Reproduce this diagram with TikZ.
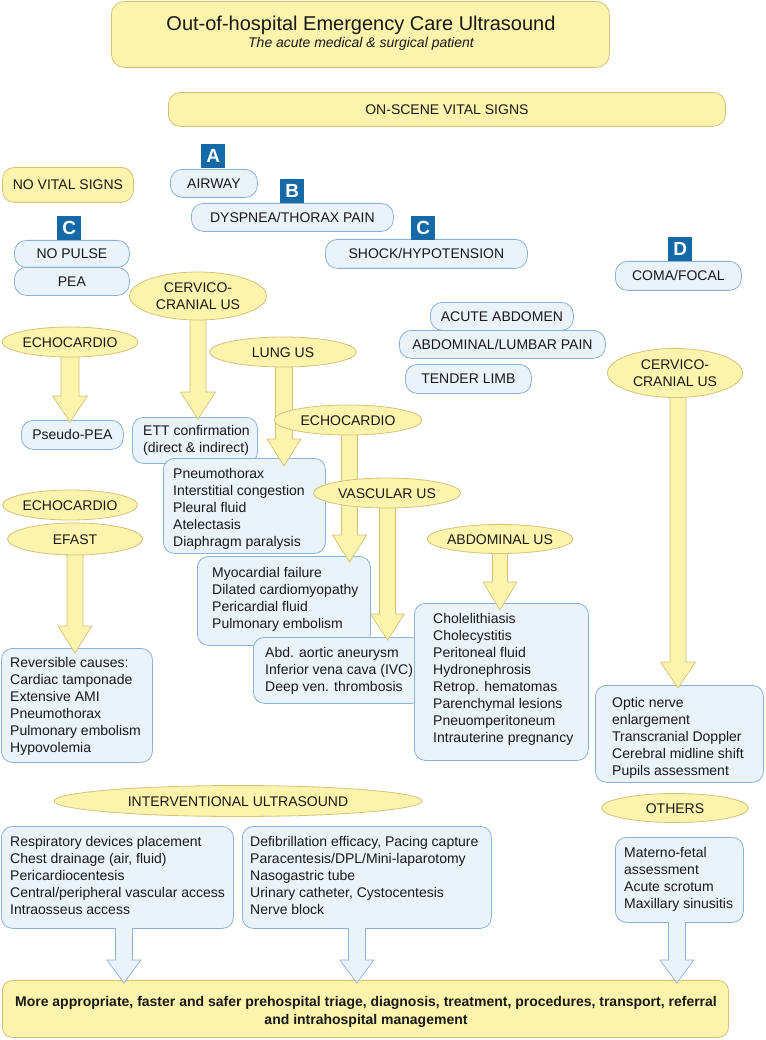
\documentclass[tikz,border=0pt]{standalone}
\usepackage{fontspec}
\setmainfont{Liberation Sans}
\usetikzlibrary{shapes.geometric,calc}
\definecolor{yfill}{RGB}{252,243,172}
\definecolor{ybd}{RGB}{212,194,120}
\definecolor{bfill}{RGB}{234,242,250}
\definecolor{bbd}{RGB}{138,178,214}
\definecolor{badgec}{RGB}{20,105,166}
\definecolor{txt}{RGB}{25,25,25}
% #1 fill, #2 draw, #3 from, #4 to, #5 half shaft, #6 half head, #7 head length
\newcommand\blockarrow[7]{%
  \fill[fill=#1] let \p1=(#3), \p2=(#4) in
    (\x1-#5,\y1) -- (\x1-#5,\y2+#7) -- (\x1-#6,\y2+#7) -- (\x1,\y2) --
    (\x1+#6,\y2+#7) -- (\x1+#5,\y2+#7) -- (\x1+#5,\y1) -- cycle;
  \draw[draw=#2, line width=0.7pt, line join=miter] let \p1=(#3), \p2=(#4) in
    (\x1-#5,\y1) -- (\x1-#5,\y2+#7) -- (\x1-#6,\y2+#7) -- (\x1,\y2) --
    (\x1+#6,\y2+#7) -- (\x1+#5,\y2+#7) -- (\x1+#5,\y1);
}
\begin{document}
\begin{tikzpicture}[x=1pt,y=-1pt,
  every node/.style={font=\fontsize{14}{17}\selectfont, text=txt},
  ybox/.style={draw=ybd, fill=yfill, line width=0.8pt, rounded corners=10pt, inner sep=0pt, anchor=north west, text height=10pt, text depth=0pt},
  bpill/.style={draw=bbd, fill=bfill, line width=0.8pt, rounded corners=12pt, inner sep=0pt, anchor=north west, text height=10pt, text depth=0pt},
  blist/.style={draw=bbd, fill=bfill, line width=0.8pt, rounded corners=11pt, inner sep=0pt, anchor=north west},
  ltext/.style={anchor=north west, inner sep=0pt, align=left},
  ell/.style={ellipse, draw=ybd, fill=yfill, line width=0.8pt, inner xsep=-6pt, inner ysep=0pt, text height=10pt, text depth=0pt},
  ell2/.style={ellipse, draw=ybd, fill=yfill, line width=0.8pt, inner sep=0pt, align=center},
  badge/.style={fill=badgec, text=white, font=\fontsize{19}{19}\selectfont\bfseries, minimum size=24pt, inner sep=0pt, anchor=north west, text height=13.5pt, text depth=0pt},
]
\useasboundingbox (0,0) rectangle (765,1040);

% title
\node[ybox, rounded corners=13pt, minimum width=498, minimum height=66] (titlebox) at (111,1) {};
\node[anchor=base, font=\fontsize{20}{24}\selectfont] (title) at (361,31) {Out-of-hospital Emergency Care Ultrasound};
\node[anchor=base, font=\fontsize{14}{17}\selectfont\itshape] (subtitle) at (361,48) {The acute medical \& surgical patient};

\node[ybox, rounded corners=12pt, minimum width=557, minimum height=34] (onscene) at (168,92) {ON-SCENE VITAL SIGNS};
\node[ybox, rounded corners=12pt, minimum width=131, minimum height=35] (novital) at (2,167) {NO VITAL SIGNS};

% pills
\node[bpill, minimum width=87, minimum height=28] (airway) at (170,169) {AIRWAY};
\node[bpill, minimum width=202, minimum height=28] (dyspnea) at (191,203) {DYSPNEA/THORAX PAIN};
\node[bpill, minimum width=115, minimum height=27] (nopulse) at (14,240) {NO PULSE};
\node[bpill, minimum width=115, minimum height=28] (pea) at (14,267) {PEA};
\node[bpill, minimum width=202, minimum height=29] (shock) at (325,239) {SHOCK/HYPOTENSION};
\node[bpill, minimum width=126, minimum height=29] (coma) at (615,261) {COMA/FOCAL};
\node[bpill, minimum width=143, minimum height=28] (acute) at (430,302) {ACUTE ABDOMEN};
\node[bpill, minimum width=206, minimum height=28] (abdlumb) at (399,330) {ABDOMINAL/LUMBAR PAIN};
\node[bpill, minimum width=126, minimum height=29] (tender) at (405,364) {TENDER LIMB};

% badges
\node[badge] (bA) at (201,144) {A};
\node[badge] (bB) at (280,179) {B};
\node[badge] (bC1) at (57,216) {C};
\node[badge] (bC2) at (411,216) {C};
\node[badge] (bD) at (668,237) {D};

% result boxes
\node[bpill, minimum width=102, minimum height=29] (pseudo) at (21,420) {Pseudo-PEA};

\node[blist, minimum width=125, minimum height=46] (ett) at (132,417) {};
\node[ltext] (etttxt) at (143,425) {ETT confirmation\\(direct \& indirect)};

\node[blist, minimum width=162, minimum height=95] (pneu) at (163,458) {};
\node[ltext] (pneutxt) at (173,468) {Pneumothorax\\Interstitial congestion\\Pleural fluid\\Atelectasis\\Diaphragm paralysis};

\node[blist, minimum width=173, minimum height=89] (myo) at (197,556) {};
\node[ltext] (myotxt) at (212,567) {Myocardial failure\\Dilated cardiomyopathy\\Pericardial fluid\\Pulmonary embolism};

\node[blist, minimum width=169, minimum height=66] (abd) at (253,637) {};
\node[ltext] (abdtxt) at (265,647) {Abd. aortic aneurysm\\Inferior vena cava (IVC)\\Deep ven. thrombosis};

\node[blist, minimum width=174, minimum height=157] (chole) at (414,603) {};
\node[ltext] (choletxt) at (433,613) {Cholelithiasis\\Cholecystitis\\Peritoneal fluid\\Hydronephrosis\\Retrop. hematomas\\Parenchymal lesions\\Pneuomperitoneum\\Intrauterine pregnancy};

\node[blist, minimum width=168, minimum height=97] (optic) at (595,685) {};
\node[ltext] (optictxt) at (612,697) {Optic nerve\\enlargement\\Transcranial Doppler\\Cerebral midline shift\\Pupils assessment};

\node[blist, minimum width=151, minimum height=114] (revers) at (1,648) {};
\node[ltext] (reverstxt) at (10,657) {Reversible causes:\\Cardiac tamponade\\Extensive AMI\\Pneumothorax\\Pulmonary embolism\\Hypovolemia};

\node[blist, minimum width=232, minimum height=102] (resp) at (1,826) {};
\node[ltext] (resptxt) at (10,836) {Respiratory devices placement\\Chest drainage (air, fluid)\\Pericardiocentesis\\Central/peripheral vascular access\\Intraosseus access};

\node[blist, minimum width=249, minimum height=102] (defib) at (242,826) {};
\node[ltext] (defibtxt) at (250,836) {Defibrillation efficacy, Pacing capture\\Paracentesis/DPL/Mini-laparotomy\\Nasogastric tube\\Urinary catheter, Cystocentesis\\Nerve block};

\node[blist, minimum width=128, minimum height=85] (materno) at (615,837) {};
\node[ltext] (maternotxt) at (624,847) {Materno-fetal\\assessment\\Acute scrotum\\Maxillary sinusitis};

\node[ybox, minimum width=726, minimum height=57] (final) at (2,980) {};
\node[anchor=north, inner sep=0pt, align=center, font=\fontsize{14}{18}\selectfont\bfseries] (finaltxt) at (366,996) {More appropriate, faster and safer prehospital triage, diagnosis, treatment, procedures, transport, referral\\and intrahospital management};

% ellipses (positions for arrows)
\coordinate (cerv1c) at (198,296);
\coordinate (echo1c) at (70,342);
\coordinate (lungc) at (284,352);
\coordinate (echo2c) at (349.5,420);
\coordinate (vascc) at (387.5,493);
\coordinate (abdusc) at (500,539);
\coordinate (cerv2c) at (678,373);
\coordinate (efastc) at (75,539);

% yellow arrows
\blockarrow{yfill}{ybd}{cerv1c}{[yshift=-2pt]ett.north}{8pt}{17.5pt}{27pt}
\blockarrow{yfill}{ybd}{echo1c}{[yshift=-2pt]pseudo.north}{9pt}{17.5pt}{26pt}
\blockarrow{yfill}{ybd}{lungc}{[yshift=-8pt]pneu.north}{8.5pt}{17pt}{27pt}
\blockarrow{yfill}{ybd}{echo2c}{[yshift=-6pt]myo.north}{8pt}{17pt}{27pt}
\blockarrow{yfill}{ybd}{vascc}{[yshift=-3pt]abd.north}{8pt}{17pt}{26pt}
\blockarrow{yfill}{ybd}{abdusc}{[yshift=-7pt]chole.north}{7.5pt}{17pt}{28pt}
\blockarrow{yfill}{ybd}{cerv2c}{[yshift=-3pt]optic.north}{8pt}{17.5pt}{26pt}
\blockarrow{yfill}{ybd}{efastc}{[yshift=-5pt]revers.north}{8pt}{17pt}{27pt}

% hollow arrows to final
\blockarrow{bfill}{bbd}{[xshift=6.5pt,yshift=1pt]resp.south}{[yshift=-3pt]final.north}{8.5pt}{17pt}{23pt}
\blockarrow{bfill}{bbd}{[xshift=-10pt,yshift=1pt]defib.south}{[yshift=-3pt]final.north}{8.5pt}{17pt}{23pt}
\blockarrow{bfill}{bbd}{[xshift=-2.5pt,yshift=1pt]materno.south}{[yshift=-3pt]final.north}{8.5pt}{17pt}{23pt}

% ellipses
\node[ell2, minimum width=137, minimum height=48] (cerv1) at (cerv1c) {CERVICO-\\CRANIAL US};
\node[ell, minimum width=136, minimum height=30] (echo1) at (echo1c) {ECHOCARDIO};
\node[ell, minimum width=147, minimum height=30] (lung) at (283,352) {LUNG US};
\node[ell, minimum width=148, minimum height=30] (echo2) at (348,420) {ECHOCARDIO};
\node[ell, minimum width=147, minimum height=30] (vasc) at (387,493) {VASCULAR US};
\node[ell, minimum width=146, minimum height=29] (abdus) at (abdusc) {ABDOMINAL US};
\node[ell2, minimum width=135, minimum height=49] (cerv2) at (675,373) {CERVICO-\\CRANIAL US};
\node[ell, minimum width=135, minimum height=30] (echo3) at (70,505) {ECHOCARDIO};
\node[ell, minimum width=135, minimum height=32] (efast) at (efastc) {EFAST};
\node[ell, minimum width=368, minimum height=31] (interv) at (238,801) {INTERVENTIONAL ULTRASOUND};
\node[ell, minimum width=147, minimum height=29] (others) at (675,808) {OTHERS};
\end{tikzpicture}
\end{document}
